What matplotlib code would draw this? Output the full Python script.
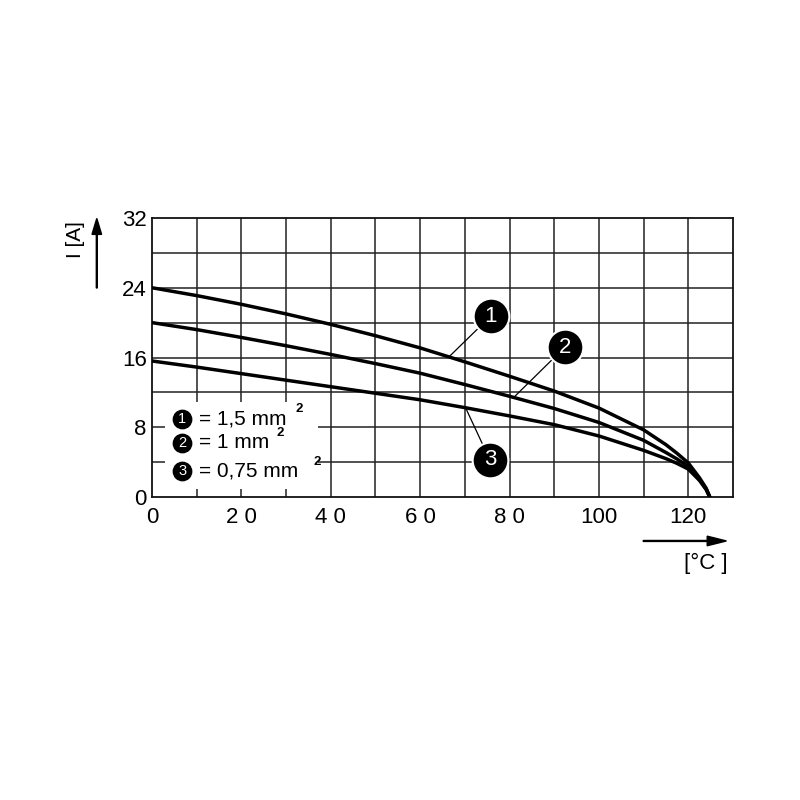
import matplotlib
matplotlib.use("Agg")
import matplotlib.pyplot as plt

plt.rcParams['font.family'] = ['Liberation Sans', 'DejaVu Sans']

# temperature [°C] and current [A]
temp = [0, 10, 20, 30, 40, 50, 60, 70, 80, 90, 100, 110, 115, 117.5, 120, 122.5, 124, 124.8]
i_15 = [24.0, 23.1, 22.1, 21.0, 19.8, 18.5, 17.1, 15.5, 13.85, 12.15, 10.2, 7.7, 6.0, 5.0, 3.9, 2.2, 1.0, 0]
i_10 = [20.0, 19.2, 18.3, 17.35, 16.35, 15.3, 14.2, 12.9, 11.55, 10.15, 8.55, 6.5, 5.1, 4.35, 3.5, 2.0, 0.9, 0]
i_075 = [15.6, 14.9, 14.15, 13.4, 12.65, 11.9, 11.15, 10.25, 9.3, 8.3, 7.0, 5.35, 4.4, 3.85, 3.2, 1.9, 0.85, 0]

x_ticks = [0, 20, 40, 60, 80, 100, 120]
x_labels = ['0', '2 0', '4 0', '6 0', '8 0', '100', '120']
y_ticks = [0, 8, 16, 24, 32]

legend_nums = ['1', '2', '3']
legend_text = ['= 1,5 mm', '= 1 mm', '= 0,75 mm']

# callouts: (number, point on curve, circle centre)
callouts = [('1', (66.4, 16.05), (75.8, 20.75)),
            ('2', (80.8, 11.35), (92.4, 17.2)),
            ('3', (70.2, 10.2), (75.6, 4.25))]

fig = plt.figure(figsize=(8, 8), dpi=100)
ax = fig.add_axes([0.19, 0.37875, 0.72625, 0.34875])
ax.set_xlim(0, 130)
ax.set_ylim(0, 32)

# grid
for gx in range(10, 130, 10):
    ax.axvline(gx, color='#222222', lw=1.1, zorder=1)
for gy in range(4, 32, 4):
    ax.axhline(gy, color='#222222', lw=1.1, zorder=1)
for s in ax.spines.values():
    s.set_linewidth(1.3)
    s.set_color('#111111')

ax.set_xticks([])
ax.set_yticks([])
for t, lab in zip(x_ticks, x_labels):
    ax.text(t, -1.1, lab, ha='center', va='top', fontsize=16, clip_on=False)
for v in y_ticks:
    ax.text(-1.2, v - 0.3, str(v), ha='right', va='center', fontsize=16, clip_on=False)

# legend box hides the grid
ax.add_patch(plt.Rectangle((2.9, 0.9), 34.2, 10.0, facecolor='white',
                           edgecolor='none', zorder=2))

for y in [i_15, i_10, i_075]:
    ax.plot(temp, y, color='black', lw=2.5, zorder=4,
            solid_capstyle='round', solid_joinstyle='round')

for num, (px, py), (cx, cy) in callouts:
    ax.plot([px, cx], [py, cy], color='black', lw=0.9, zorder=3)
    ax.scatter([cx], [cy], s=660, color='black', edgecolor='white', linewidth=1.5, zorder=5)
    ax.text(cx, cy, num, color='white', ha='center', va='center', fontsize=16, zorder=6)

leg_y = [9.0, 6.2, 2.95]
sup_x = [33.0, 28.7, 36.9]
for num, txt, ly, sx in zip(legend_nums, legend_text, leg_y, sup_x):
    ax.scatter([6.8], [ly], s=175, color='black', zorder=5)
    ax.text(6.8, ly, num, color='white', ha='center', va='center', fontsize=10.5, zorder=6)
    ax.text(10.6, ly, txt, ha='left', va='center', fontsize=15, zorder=6)
    ax.text(sx, ly + 1.1, '2', ha='center', va='center', fontsize=9.5,
            fontweight='bold', zorder=6)

# axis labels with arrows
fig.text(0.094, 0.70, 'I [A]', rotation=90, ha='center', va='center', fontsize=15)
fig.patches.append(matplotlib.patches.FancyArrow(
    0.121, 0.64, 0, 0.087, width=0.0012, head_width=0.012, head_length=0.02,
    length_includes_head=True, color='black', transform=fig.transFigure))
fig.patches.append(matplotlib.patches.FancyArrow(
    0.804, 0.3238, 0.104, 0, width=0.0012, head_width=0.012, head_length=0.024,
    length_includes_head=True, color='black', transform=fig.transFigure))
fig.text(0.882, 0.296, '[°C ]', ha='center', va='center', fontsize=16)

fig.savefig('out.png', dpi=100, facecolor='white')
